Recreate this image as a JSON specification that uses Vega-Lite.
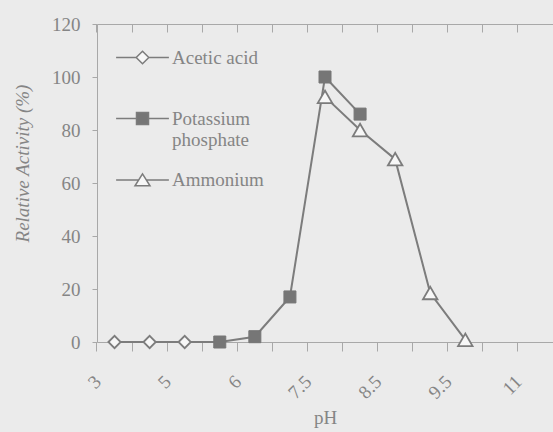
{
  "$schema": "https://vega.github.io/schema/vega-lite/v6.json",
  "autosize": "none",
  "padding": {"left": 97, "top": 24, "right": 0, "bottom": 90},
  "width": 456,
  "height": 318,
  "background": "#ebebeb",
  "config": {
    "view": {"stroke": null},
    "font": "Liberation Serif"
  },
  "data": {
    "values": [
      {"pH": "3", "series": "Acetic acid", "activity": 0},
      {"pH": "4", "series": "Acetic acid", "activity": 0},
      {"pH": "5", "series": "Acetic acid", "activity": 0},
      {"pH": "5.5", "series": "Acetic acid", "activity": 0},
      {"pH": "5.5", "series": "Potassium phosphate", "activity": 0},
      {"pH": "6", "series": "Potassium phosphate", "activity": 2},
      {"pH": "7", "series": "Potassium phosphate", "activity": 17},
      {"pH": "7.5", "series": "Potassium phosphate", "activity": 100},
      {"pH": "8", "series": "Potassium phosphate", "activity": 86},
      {"pH": "7.5", "series": "Ammonium", "activity": 92.5},
      {"pH": "8", "series": "Ammonium", "activity": 80},
      {"pH": "8.5", "series": "Ammonium", "activity": 69},
      {"pH": "9", "series": "Ammonium", "activity": 18.5},
      {"pH": "9.5", "series": "Ammonium", "activity": 0.8}
    ]
  },
  "encoding": {
    "x": {
      "field": "pH",
      "type": "ordinal",
      "scale": {"type": "band", "domain": ["3", "4", "5", "5.5", "6", "7", "7.5", "8", "8.5", "9", "9.5", "10", "11"], "paddingInner": 0, "paddingOuter": 0},
      "axis": {
        "title": "pH",
        "titleFont": "Liberation Serif",
        "titleFontSize": 19,
        "titleFontWeight": "normal",
        "titleColor": "#858585",
        "titleBaseline": "alphabetic",
        "titleY": 81,
        "bandPosition": 0,
        "labelAngle": -45,
        "labelFont": "Liberation Serif",
        "labelFontSize": 19,
        "labelColor": "#858585",
        "labelPadding": 21,
        "labelOffset": -23,
        "labelExpr": "indexof(['3','5','6','7.5','8.5','9.5','11'], datum.value) >= 0 ? datum.label : ''",
        "tickSize": 9,
        "tickColor": "#a8a8a8",
        "domainColor": "#a8a8a8",
        "grid": true,
        "gridColor": "#a8a8a8",
        "gridDash": [8, 1000],
        "gridWidth": 1
      }
    },
    "y": {
      "field": "activity",
      "type": "quantitative",
      "scale": {"domain": [0, 120], "nice": false},
      "axis": {
        "title": "Relative Activity (%)",
        "titleFont": "Liberation Serif",
        "titleFontStyle": "italic",
        "titleFontWeight": "normal",
        "titleFontSize": 19,
        "titleColor": "#858585",
        "titleBaseline": "middle",
        "titleX": -75,
        "titleY": 139,
        "values": [0, 20, 40, 60, 80, 100, 120],
        "labelFont": "Liberation Serif",
        "labelFontSize": 19,
        "labelColor": "#858585",
        "labelPadding": 12,
        "tickSize": 5,
        "tickColor": "#a8a8a8",
        "domainColor": "#a8a8a8",
        "grid": true,
        "gridColor": "#a8a8a8",
        "gridOpacity": {"condition": {"test": "datum.value === 120", "value": 1}, "value": 0}
      }
    }
  },
  "layer": [
    {
      "mark": {"type": "line", "color": "#7c7c7c", "strokeWidth": 2},
      "encoding": {"detail": {"field": "series"}}
    },
    {
      "transform": [{"filter": "datum.series === 'Acetic acid' && datum.pH !== '5.5'"}],
      "mark": {"type": "point", "shape": "diamond", "size": 150, "filled": true, "fill": "#f7f7f7", "stroke": "#7c7c7c", "strokeWidth": 1.8, "opacity": 1}
    },
    {
      "transform": [{"filter": "datum.series === 'Potassium phosphate'"}],
      "mark": {"type": "point", "shape": "square", "size": 144, "filled": true, "fill": "#767676", "stroke": "#767676", "strokeWidth": 1, "opacity": 1}
    },
    {
      "transform": [{"filter": "datum.series === 'Ammonium'"}],
      "mark": {"type": "point", "shape": "triangle-up", "size": 210, "filled": true, "fill": "#f7f7f7", "stroke": "#7c7c7c", "strokeWidth": 1.8, "opacity": 1}
    },
    {
      "transform": [{"filter": "false"}],
      "mark": {"type": "point", "stroke": "#7c7c7c", "strokeWidth": 1.8, "opacity": 1},
      "encoding": {
        "x": null,
        "y": null,
        "shape": {
          "field": "series",
          "type": "nominal",
          "scale": {
            "domain": ["Acetic acid", "Potassium phosphate", "Ammonium"],
            "range": [
              "M-4.4,0H-1.05M1.05,0H4.4M0,-1.05L1.05,0L0,1.05L-1.05,0Z",
              "M-4.4,0H-1M1,0H4.4M-1,-1H1V1H-1Z",
              "M-4.4,0.1H-0.6M0.6,0.1H4.4M0,-0.95L1.25,1.05H-1.25Z"
            ]
          },
          "legend": {
            "orient": "none",
            "legendX": 36,
            "legendY": 24,
            "title": null,
            "padding": 0,
            "symbolSize": 144,
            "symbolOffset": 0,
            "labelOffset": 20,
            "labelFont": "Liberation Serif",
            "labelFontSize": 19,
            "labelColor": "#858585",
            "labelLineHeight": 21,
            "labelLimit": 300,
            "rowPadding": 20,
            "labelExpr": "datum.label === 'Potassium phosphate' ? ['Potassium', 'phosphate'] : [datum.label, '']",
            "encode": {"symbols": {"update": {"stroke": {"value": "#7c7c7c"}, "strokeWidth": {"value": 1.8}, "opacity": {"value": 1}}}}
          }
        },
        "fill": {
          "field": "series",
          "type": "nominal",
          "scale": {
            "domain": ["Acetic acid", "Potassium phosphate", "Ammonium"],
            "range": ["#f7f7f7", "#767676", "#f7f7f7"]
          },
          "legend": {
            "orient": "none",
            "legendX": 36,
            "legendY": 24,
            "title": null,
            "padding": 0,
            "symbolSize": 144,
            "symbolOffset": 0,
            "labelOffset": 20,
            "labelFont": "Liberation Serif",
            "labelFontSize": 19,
            "labelColor": "#858585",
            "labelLineHeight": 21,
            "labelLimit": 300,
            "rowPadding": 20,
            "labelExpr": "datum.label === 'Potassium phosphate' ? ['Potassium', 'phosphate'] : [datum.label, '']",
            "encode": {"symbols": {"update": {"stroke": {"value": "#7c7c7c"}, "strokeWidth": {"value": 1.8}, "opacity": {"value": 1}}}}
          }
        }
      }
    }
  ]
}
